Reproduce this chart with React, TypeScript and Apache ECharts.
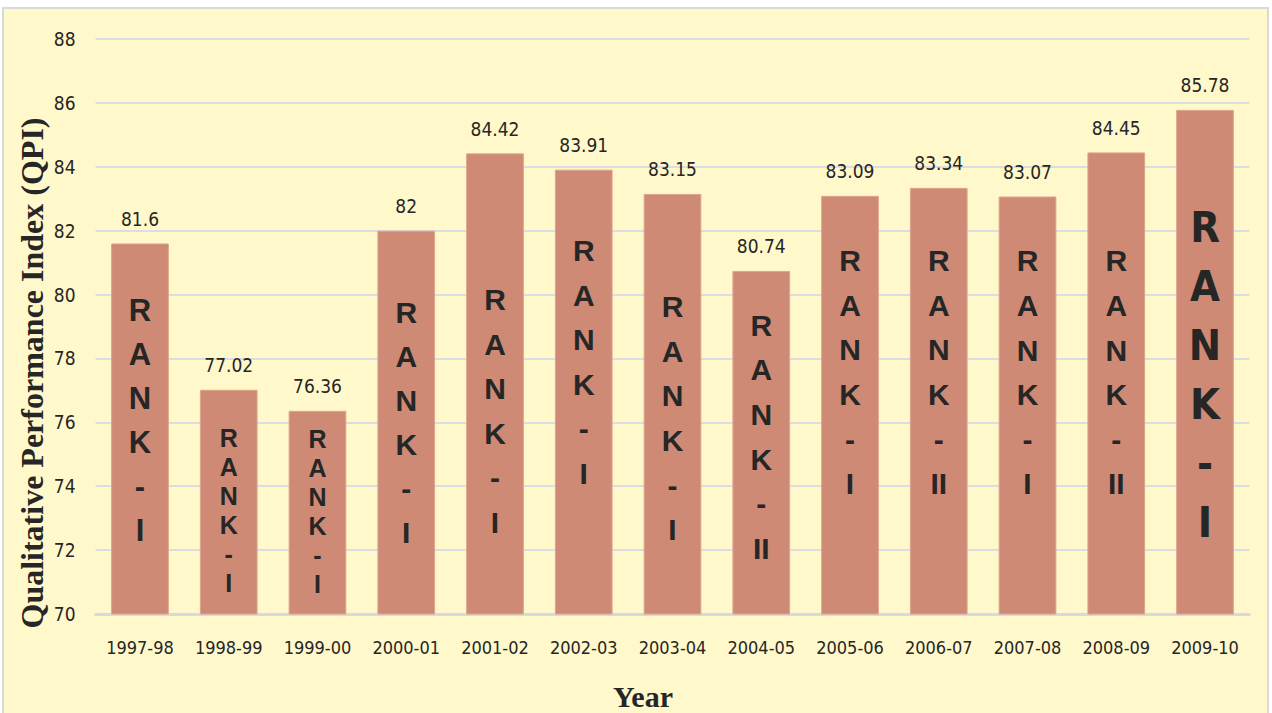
import React, { useEffect, useRef } from "react";
import * as echarts from "echarts";

const years = [
  "1997-98", "1998-99", "1999-00", "2000-01", "2001-02", "2002-03", "2003-04",
  "2004-05", "2005-06", "2006-07", "2007-08", "2008-09", "2009-10",
];
const qpi = [81.6, 77.02, 76.36, 82, 84.42, 83.91, 83.15, 80.74, 83.09, 83.34, 83.07, 84.45, 85.78];
const ranks = ["I", "I", "I", "I", "I", "I", "I", "II", "I", "II", "I", "II", "I"];
const yMin = 70;
const yMax = 88;
const yStep = 2;
const yTitle = "Qualitative Performance Index (QPI)";
const xTitle = "Year";

// per-bar label look (font size, line spacing, vertical shift)
const rankLook = [
  { fs: 31, lh: 44, dy: -8, ff: "Liberation Sans" },
  { fs: 25, lh: 29, dy: 8, ff: "Liberation Sans" },
  { fs: 25, lh: 29, dy: -1, ff: "Liberation Sans" },
  { fs: 30, lh: 44, dy: 0, ff: "Liberation Sans" },
  { fs: 30, lh: 44.6, dy: 27, ff: "Liberation Sans" },
  { fs: 30, lh: 44.6, dy: -30, ff: "Liberation Sans" },
  { fs: 30, lh: 44.6, dy: 14, ff: "Liberation Sans" },
  { fs: 30, lh: 44.6, dy: -6, ff: "Liberation Sans" },
  { fs: 30, lh: 44.6, dy: -33, ff: "Liberation Sans" },
  { fs: 30, lh: 44.6, dy: -29, ff: "Liberation Sans" },
  { fs: 30, lh: 44.6, dy: -33, ff: "Liberation Sans" },
  { fs: 30, lh: 44.6, dy: -11, ff: "Liberation Sans" },
  { fs: 43, lh: 59, dy: 12, ff: "DejaVu Sans Condensed" },
];

const narrow = '"DejaVu Sans Condensed", "Liberation Sans Narrow", sans-serif';

export default function App() {
  const ref = useRef<HTMLDivElement>(null);
  useEffect(() => {
    if (!ref.current) return;
    const chart = echarts.init(ref.current, null, { renderer: "svg" });
    chart.setOption({
      animation: false,
      backgroundColor: "#ffffff",
      graphic: [
        {
          type: "rect",
          z: -10,
          shape: { x: 3, y: 8, width: 1265, height: 712 },
          style: { fill: "#FFF8CB", stroke: "#D9D9D9", lineWidth: 2 },
        },
        {
          type: "text",
          z: 100,
          x: 32,
          y: 373,
          rotation: Math.PI / 2,
          style: {
            text: yTitle,
            font: 'bold 32px "Liberation Serif", "Times New Roman", serif',
            fill: "#262626",
            textAlign: "center",
            textVerticalAlign: "middle",
          },
        },
        {
          type: "text",
          z: 100,
          x: 643,
          y: 696,
          style: {
            text: xTitle,
            font: 'bold 30px "Liberation Serif", "Times New Roman", serif',
            fill: "#262626",
            textAlign: "center",
            textVerticalAlign: "middle",
          },
        },
      ],
      grid: { left: 95.6, right: 22.6, top: 39, bottom: 99, containLabel: false },
      xAxis: {
        type: "category",
        data: years,
        axisLine: { show: true, lineStyle: { color: "#D9D9D9", width: 3 } },
        axisTick: { show: false },
        axisLabel: { interval: 0, fontSize: 18, color: "#262626", margin: 24, fontFamily: narrow },
      },
      yAxis: {
        type: "value",
        min: yMin,
        max: yMax,
        interval: yStep,
        axisLine: { show: false },
        axisTick: { show: false },
        splitLine: { lineStyle: { color: "#DCDCE4", width: 2 } },
        axisLabel: { fontSize: 19, color: "#262626", margin: 20, fontFamily: narrow },
      },
      series: [
        {
          type: "bar",
          barCategoryGap: "35%",
          itemStyle: { color: "#CE8A74", borderColor: "#DDA48C", borderWidth: 1 },
          data: qpi.map((v, i) => ({
            value: v,
            label: {
              fontSize: rankLook[i].fs,
              lineHeight: rankLook[i].lh,
              offset: [0, rankLook[i].dy],
              fontFamily: rankLook[i].ff,
            },
          })),
          label: {
            show: true,
            position: "inside",
            color: "#262626",
            fontWeight: "bold",
            align: "center",
            formatter: (p: any) => "R\nA\nN\nK\n-\n" + ranks[p.dataIndex],
          },
        },
        {
          type: "bar",
          barCategoryGap: "35%",
          barGap: "-100%",
          silent: true,
          itemStyle: { color: "rgba(0,0,0,0)" },
          data: qpi,
          label: {
            show: true,
            position: "top",
            distance: 15,
            fontSize: 19,
            color: "#262626",
            fontFamily: narrow,
            formatter: (p: any) => String(p.value),
          },
        },
      ],
    });
    return () => chart.dispose();
  }, []);
  return (
    <div
      ref={ref}
      style={{ position: "absolute", left: 0, top: 0, width: 1272, height: 713 }}
    />
  );
}
